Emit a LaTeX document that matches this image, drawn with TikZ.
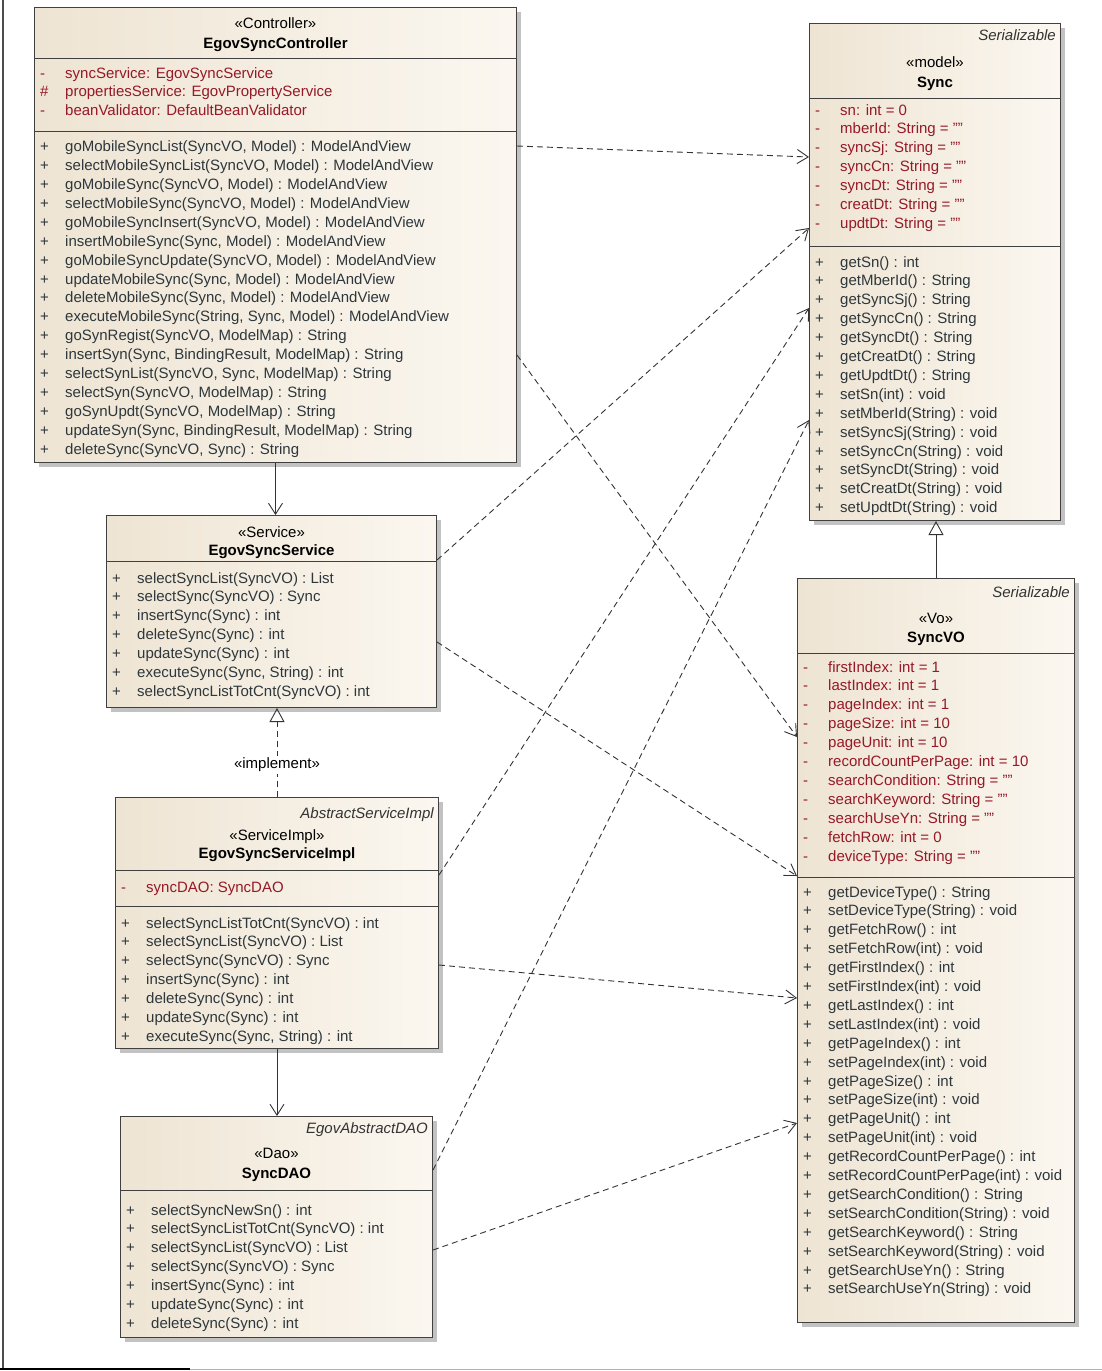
\documentclass[tikz,border=0pt]{standalone}
\usepackage{fontspec}
\setmainfont{Liberation Sans}
\usetikzlibrary{arrows.meta,shadows}
\definecolor{clsdark}{RGB}{238,228,211}
\definecolor{clslight}{RGB}{251,247,240}
\definecolor{attrred}{RGB}{150,25,40}
\definecolor{opcol}{RGB}{45,55,60}

\begin{document}
\begin{tikzpicture}[x=1pt,y=-1pt,
  box/.style={draw=black!75,line width=1pt,left color=clsdark,right color=clslight,drop shadow={shadow xshift=4pt,shadow yshift=-4pt,fill=black!40,opacity=.6},anchor=north west,inner sep=0pt},
  rows/.style={anchor=base west,inner sep=0pt,font=\fontsize{15}{18.9}\selectfont},
  attr/.style={rows,text=attrred},
  oper/.style={rows,text=opcol},
  stereo/.style={anchor=base,inner sep=0pt,font=\fontsize{15}{18}\selectfont},
  title/.style={anchor=base,inner sep=0pt,font=\fontsize{15}{18}\selectfont\bfseries},
  parent/.style={anchor=base east,inner sep=0pt,text=black!80,font=\fontsize{15}{18}\selectfont\itshape},
  sep/.style={draw=black!75,line width=1pt},
  assoc/.style={draw=black!80,line width=0.9pt,-{Straight Barb[length=11pt,width=14pt]}},
  dep/.style={assoc,dash pattern=on 6pt off 4pt},
  gen/.style={draw=black!80,line width=0.9pt,-{Triangle[open,length=14pt,width=15pt]}},
  real/.style={gen,dash pattern=on 6pt off 4pt}]

\useasboundingbox (0,0) rectangle (1102,1371);

\node[box,minimum width=482pt,minimum height=455pt] (ctrl) at (34,7) {};

\node[box,minimum width=251pt,minimum height=497pt] (sync) at (809,23) {};

\node[box,minimum width=277pt,minimum height=744pt] (vo) at (797,578) {};

\node[box,minimum width=330pt,minimum height=192pt] (svc) at (106,515) {};

\node[box,minimum width=323pt,minimum height=251pt] (impl) at (115,797) {};

\node[box,minimum width=312pt,minimum height=221pt] (dao) at (120,1116) {};

\draw[sep] (ctrl.west |- 0,58) -- (ctrl.east |- 0,58);
\draw[sep] (ctrl.west |- 0,131) -- (ctrl.east |- 0,131);
\draw[sep] (sync.west |- 0,98) -- (sync.east |- 0,98);
\draw[sep] (sync.west |- 0,246) -- (sync.east |- 0,246);
\draw[sep] (vo.west |- 0,653) -- (vo.east |- 0,653);
\draw[sep] (vo.west |- 0,877) -- (vo.east |- 0,877);
\draw[sep] (svc.west |- 0,561) -- (svc.east |- 0,561);
\draw[sep] (impl.west |- 0,870) -- (impl.east |- 0,870);
\draw[sep] (impl.west |- 0,906) -- (impl.east |- 0,906);
\draw[sep] (dao.west |- 0,1190) -- (dao.east |- 0,1190);

\node[stereo] (ctrlst) at (ctrl.north |- 0,28) {«Controller»};
\node[title] (ctrlname) at (ctrl.north |- 0,48) {EgovSyncController};

\node[attr] (ctrlattr) at (40,78) {\begin{tabular}[t]{@{}p{25pt}@{}l@{}}
- & syncService: EgovSyncService\\
\# & propertiesService: EgovPropertyService\\
- & beanValidator: DefaultBeanValidator
\end{tabular}};

\node[oper] (ctrlops) at (40,151.7) {\begin{tabular}[t]{@{}p{25pt}@{}l@{}}
+ & goMobileSyncList(SyncVO, Model) : ModelAndView\\
+ & selectMobileSyncList(SyncVO, Model) : ModelAndView\\
+ & goMobileSync(SyncVO, Model) : ModelAndView\\
+ & selectMobileSync(SyncVO, Model) : ModelAndView\\
+ & goMobileSyncInsert(SyncVO, Model) : ModelAndView\\
+ & insertMobileSync(Sync, Model) : ModelAndView\\
+ & goMobileSyncUpdate(SyncVO, Model) : ModelAndView\\
+ & updateMobileSync(Sync, Model) : ModelAndView\\
+ & deleteMobileSync(Sync, Model) : ModelAndView\\
+ & executeMobileSync(String, Sync, Model) : ModelAndView\\
+ & goSynRegist(SyncVO, ModelMap) : String\\
+ & insertSyn(Sync, BindingResult, ModelMap) : String\\
+ & selectSynList(SyncVO, Sync, ModelMap) : String\\
+ & selectSyn(SyncVO, ModelMap) : String\\
+ & goSynUpdt(SyncVO, ModelMap) : String\\
+ & updateSyn(Sync, BindingResult, ModelMap) : String\\
+ & deleteSync(SyncVO, Sync) : String
\end{tabular}};

\node[parent] (syncpar) at ([xshift=-5pt]sync.east |- 0,40) {Serializable};
\node[stereo] (syncst) at (sync.north |- 0,67) {«model»};
\node[title] (syncname) at (sync.north |- 0,87) {Sync};

\node[attr] (syncattr) at (815,115) {\begin{tabular}[t]{@{}p{25pt}@{}l@{}}
- & sn: int = 0\\
- & mberId: String = ""\\
- & syncSj: String = ""\\
- & syncCn: String = ""\\
- & syncDt: String = ""\\
- & creatDt: String = ""\\
- & updtDt: String = ""
\end{tabular}};

\node[oper] (syncops) at (815,267) {\begin{tabular}[t]{@{}p{25pt}@{}l@{}}
+ & getSn() : int\\
+ & getMberId() : String\\
+ & getSyncSj() : String\\
+ & getSyncCn() : String\\
+ & getSyncDt() : String\\
+ & getCreatDt() : String\\
+ & getUpdtDt() : String\\
+ & setSn(int) : void\\
+ & setMberId(String) : void\\
+ & setSyncSj(String) : void\\
+ & setSyncCn(String) : void\\
+ & setSyncDt(String) : void\\
+ & setCreatDt(String) : void\\
+ & setUpdtDt(String) : void
\end{tabular}};

\node[parent] (vopar) at ([xshift=-5pt]vo.east |- 0,597) {Serializable};
\node[stereo] (vost) at (vo.north |- 0,623) {«Vo»};
\node[title] (voname) at (vo.north |- 0,642) {SyncVO};

\node[attr] (voattr) at (803,672) {\begin{tabular}[t]{@{}p{25pt}@{}l@{}}
- & firstIndex: int = 1\\
- & lastIndex: int = 1\\
- & pageIndex: int = 1\\
- & pageSize: int = 10\\
- & pageUnit: int = 10\\
- & recordCountPerPage: int = 10\\
- & searchCondition: String = ""\\
- & searchKeyword: String = ""\\
- & searchUseYn: String = ""\\
- & fetchRow: int = 0\\
- & deviceType: String = ""
\end{tabular}};

\node[oper] (voops) at (803,897) {\begin{tabular}[t]{@{}p{25pt}@{}l@{}}
+ & getDeviceType() : String\\
+ & setDeviceType(String) : void\\
+ & getFetchRow() : int\\
+ & setFetchRow(int) : void\\
+ & getFirstIndex() : int\\
+ & setFirstIndex(int) : void\\
+ & getLastIndex() : int\\
+ & setLastIndex(int) : void\\
+ & getPageIndex() : int\\
+ & setPageIndex(int) : void\\
+ & getPageSize() : int\\
+ & setPageSize(int) : void\\
+ & getPageUnit() : int\\
+ & setPageUnit(int) : void\\
+ & getRecordCountPerPage() : int\\
+ & setRecordCountPerPage(int) : void\\
+ & getSearchCondition() : String\\
+ & setSearchCondition(String) : void\\
+ & getSearchKeyword() : String\\
+ & setSearchKeyword(String) : void\\
+ & getSearchUseYn() : String\\
+ & setSearchUseYn(String) : void
\end{tabular}};

\node[stereo] (svcst) at (svc.north |- 0,537) {«Service»};
\node[title] (svcname) at (svc.north |- 0,555) {EgovSyncService};

\node[oper] (svcops) at (112,583) {\begin{tabular}[t]{@{}p{25pt}@{}l@{}}
+ & selectSyncList(SyncVO) : List\\
+ & selectSync(SyncVO) : Sync\\
+ & insertSync(Sync) : int\\
+ & deleteSync(Sync) : int\\
+ & updateSync(Sync) : int\\
+ & executeSync(Sync, String) : int\\
+ & selectSyncListTotCnt(SyncVO) : int
\end{tabular}};

\node[parent] (implpar) at ([xshift=-5pt]impl.east |- 0,818) {AbstractServiceImpl};
\node[stereo] (implst) at (impl.north |- 0,840) {«ServiceImpl»};
\node[title] (implname) at (impl.north |- 0,858) {EgovSyncServiceImpl};

\node[attr] (implattr) at (121,892) {\begin{tabular}[t]{@{}p{25pt}@{}l@{}}
- & syncDAO: SyncDAO
\end{tabular}};

\node[oper] (implops) at (121,928) {\begin{tabular}[t]{@{}p{25pt}@{}l@{}}
+ & selectSyncListTotCnt(SyncVO) : int\\
+ & selectSyncList(SyncVO) : List\\
+ & selectSync(SyncVO) : Sync\\
+ & insertSync(Sync) : int\\
+ & deleteSync(Sync) : int\\
+ & updateSync(Sync) : int\\
+ & executeSync(Sync, String) : int
\end{tabular}};

\node[parent] (daopar) at ([xshift=-5pt]dao.east |- 0,1133) {EgovAbstractDAO};
\node[stereo] (daost) at (dao.north |- 0,1158) {«Dao»};
\node[title] (daoname) at (dao.north |- 0,1178) {SyncDAO};

\node[oper] (daoops) at (126,1215) {\begin{tabular}[t]{@{}p{25pt}@{}l@{}}
+ & selectSyncNewSn() : int\\
+ & selectSyncListTotCnt(SyncVO) : int\\
+ & selectSyncList(SyncVO) : List\\
+ & selectSync(SyncVO) : Sync\\
+ & insertSync(Sync) : int\\
+ & updateSync(Sync) : int\\
+ & deleteSync(Sync) : int
\end{tabular}};

\draw[assoc] (ctrl.south) -- (ctrl.south |- svc.north);

\draw[real] (impl.north) -- (impl.north |- svc.south);

\node[stereo,anchor=center,fill=white,inner sep=2pt] (impllbl) at (277,765) {«implement»};

\draw[assoc] (impl.south) -- (impl.south |- dao.north);

\draw[gen] (vo.north) -- (vo.north |- sync.south);

\draw[dep] (ctrl.east |- 0,146) -- (sync.west |- 0,157);

\draw[dep] (ctrl.east |- 0,355) -- (vo.west |- 0,737);

\draw[dep] (svc.east |- 0,560) -- (sync.west |- 0,228);

\draw[dep] (svc.east |- 0,642) -- (vo.west |- 0,876);

\draw[dep] (impl.east |- 0,875) -- (sync.west |- 0,308);

\draw[dep] (impl.east |- 0,965) -- (vo.west |- 0,998);

\draw[dep] (dao.east |- 0,1170) -- (sync.west |- 0,420);

\draw[dep] (dao.east |- 0,1250) -- (vo.west |- 0,1123);

\draw[black!70,line width=1.2pt] (3,0) -- (3,1368);

\draw[black,line width=2pt] (0,1369) -- (190,1369);

\draw[black!30,line width=1pt] (190,1369) -- (1102,1369);

\end{tikzpicture}
\end{document}
